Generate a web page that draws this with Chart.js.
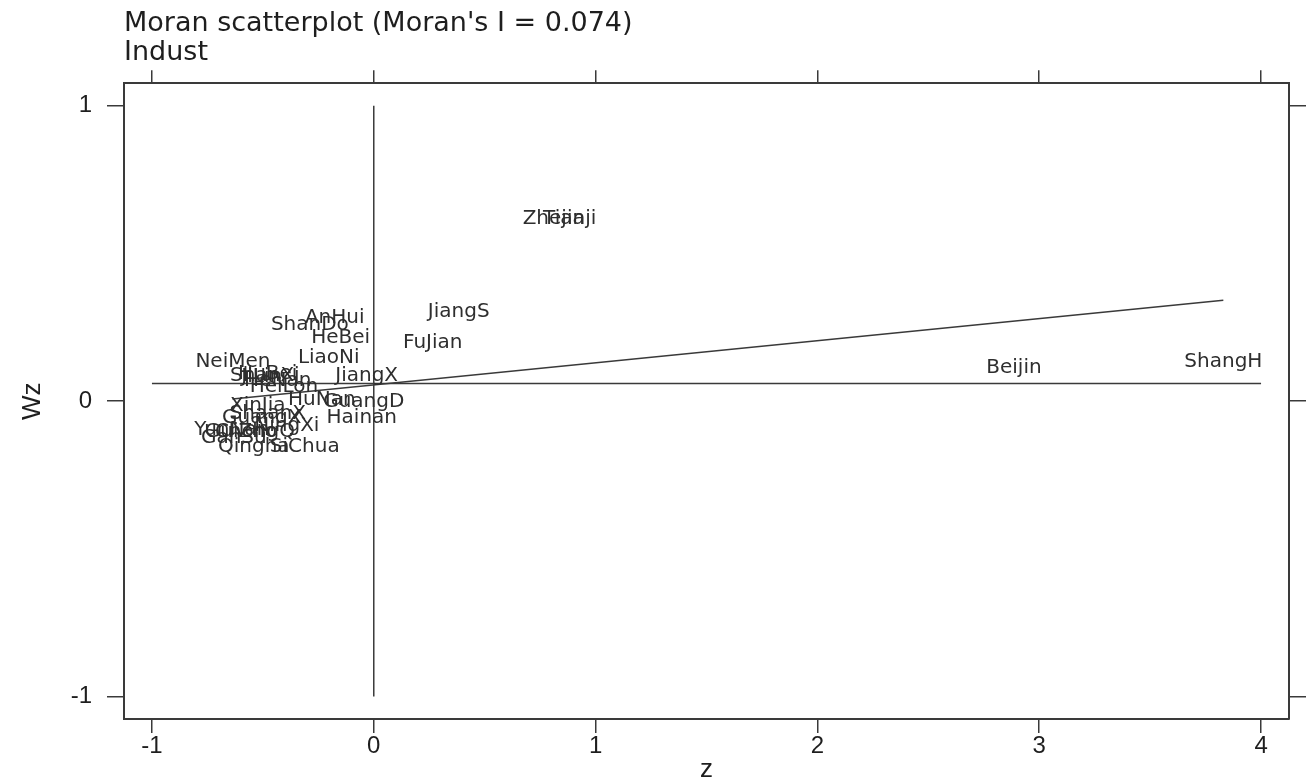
<!DOCTYPE html>
<html>
<head>
<meta charset="utf-8">
<script src="https://cdn.jsdelivr.net/npm/chart.js@4"></script>
<style>
  body { margin: 0; background: #fff; }
  #wrap { width: 1308px; height: 783px; }
</style>
</head>
<body>
<div id="wrap"><canvas id="moran"></canvas></div>
<script>
// Moran scatterplot - Indust

// province labels and their (z, Wz) positions
const names = ['ShangH', 'Beijin', 'Zhejia', 'Tianji', 'JiangS', 'FuJian', 'AnHui', 'ShanDo',
  'HeBei', 'LiaoNi', 'NeiMen', 'JiangX', 'GuangD', 'HuNan', 'ShanXi', 'HuBei', 'JiLin',
  'HeNan', 'HeiLon', 'XinJia', 'ShaanX', 'GuangX', 'NingXi', 'YunNan', 'GuiZho', 'ChongQ',
  'GanSu', 'Qingha', 'SiChua', 'Hainan'];
const zVals = [3.83, 2.886, 0.811, 0.883, 0.383, 0.266, -0.176, -0.288,
  -0.149, -0.203, -0.635, -0.032, -0.045, -0.234, -0.491, -0.478, -0.505,
  -0.433, -0.405, -0.523, -0.478, -0.505, -0.392, -0.64, -0.599, -0.536,
  -0.631, -0.541, -0.311, -0.054];
const wzVals = [0.132, 0.112, 0.616, 0.616, 0.301, 0.196, 0.281, 0.257,
  0.213, 0.146, 0.132, 0.085, -0.003, 0.003, 0.085, 0.091, 0.081,
  0.068, 0.047, -0.017, -0.044, -0.058, -0.085, -0.098, -0.105, -0.105,
  -0.125, -0.156, -0.156, -0.058];

// fitted line (slope = Moran's I) and the reference lines
const fitX = [-0.637, 3.83];
const fitY = [0.007, 0.342];
const meanX = [-1, 4];
const meanY = [0.06, 0.06];
const vertX = [0, 0];
const vertY = [-1, 1];

const xTicks = [-1, 0, 1, 2, 3, 4];
const yTicks = [-1, 0, 1];

const ink = '#3a3a3a';

function pts(xs, ys) {
  return xs.map((x, i) => ({ x: x, y: ys[i] }));
}

// draw names centred on each point instead of markers
const labelPlugin = {
  id: 'pointNames',
  afterDatasetsDraw(chart) {
    const ctx = chart.ctx;
    const meta = chart.getDatasetMeta(0);
    ctx.save();
    ctx.font = '20px "DejaVu Sans"';
    ctx.fillStyle = '#2e2e2e';
    ctx.textAlign = 'center';
    ctx.textBaseline = 'middle';
    meta.data.forEach((el, i) => {
      ctx.fillText(names[i], el.x, el.y);
    });
    ctx.restore();
  }
};

function setTicks(list) {
  return function(scale) {
    scale.ticks = list.map(v => ({ value: v }));
  };
}

const gridOpts = {
  display: true,
  drawOnChartArea: false,
  drawTicks: true,
  tickLength: 15,
  color: ink,
  lineWidth: 1.5,
};

const ctx = document.getElementById('moran').getContext('2d');

const moranChart = new Chart(ctx, {
  type: 'scatter',
  data: {
    datasets: [{
      data: pts(zVals, wzVals),
      pointRadius: 0,
      pointHoverRadius: 0,
    }, {
      data: pts(fitX, fitY),
      showLine: true,
      borderColor: ink,
      borderWidth: 1.5,
      pointRadius: 0,
    }, {
      data: pts(meanX, meanY),
      showLine: true,
      borderColor: ink,
      borderWidth: 1.5,
      pointRadius: 0,
    }, {
      data: pts(vertX, vertY),
      showLine: true,
      borderColor: ink,
      borderWidth: 1.5,
      pointRadius: 0,
    }],
  },
  plugins: [labelPlugin],
  options: {
    responsive: true,
    maintainAspectRatio: false,
    animation: false,
    events: [],
    layout: { padding: 0 },
    scales: {
      x: {
        type: 'linear',
        position: 'bottom',
        min: -1.126,
        max: 4.126,
        afterBuildTicks: setTicks(xTicks),
        afterFit: (s) => { s.height = 64; },
        grid: Object.assign({}, gridOpts, { tickLength: 14 }),
        border: { display: true, color: ink, width: 2 },
        ticks: {
          color: '#1e1e1e',
          padding: 1,
          maxRotation: 0,
          font: { family: '"Liberation Sans"', size: 24, lineHeight: 1 },
        },
        title: {
          display: true,
          text: 'z',
          color: '#1e1e1e',
          padding: 0,
          font: { family: '"Liberation Sans"', size: 26, lineHeight: 1 },
        },
      },
      x2: {
        type: 'linear',
        position: 'top',
        min: -1.126,
        max: 4.126,
        afterBuildTicks: setTicks(xTicks),
        afterFit: (s) => { s.height = 13; },
        grid: Object.assign({}, gridOpts, { tickLength: 13 }),
        border: { display: true, color: ink, width: 2 },
        ticks: { display: false },
      },
      y: {
        type: 'linear',
        position: 'left',
        min: -1.076,
        max: 1.076,
        afterBuildTicks: setTicks(yTicks),
        afterFit: (s) => { s.width = 124; },
        grid: Object.assign({}, gridOpts, { tickLength: 17 }),
        border: { display: true, color: ink, width: 2 },
        ticks: {
          color: '#1e1e1e',
          padding: 15,
          font: { family: '"Liberation Sans"', size: 24, lineHeight: 1 },
        },
        title: {
          display: true,
          text: 'Wz',
          color: '#1e1e1e',
          padding: { top: 20, bottom: 0 },
          font: { family: '"Liberation Sans"', size: 26, lineHeight: 1 },
        },
      },
      y2: {
        type: 'linear',
        position: 'right',
        min: -1.076,
        max: 1.076,
        afterBuildTicks: setTicks(yTicks),
        afterFit: (s) => { s.width = 19; },
        grid: Object.assign({}, gridOpts, { tickLength: 17 }),
        border: { display: true, color: ink, width: 2 },
        ticks: { display: false },
      },
    },
    plugins: {
      legend: { display: false },
      tooltip: { enabled: false },
      title: {
        display: true,
        fullSize: false,
        align: 'start',
        text: ["Moran scatterplot (Moran's I = 0.074)", 'Indust'],
        color: '#1e1e1e',
        font: { family: '"DejaVu Sans"', size: 27, weight: 'normal', lineHeight: 1.08 },
        padding: { top: 9, bottom: 3 },
      },
    },
  },
});
</script>
</body>
</html>
